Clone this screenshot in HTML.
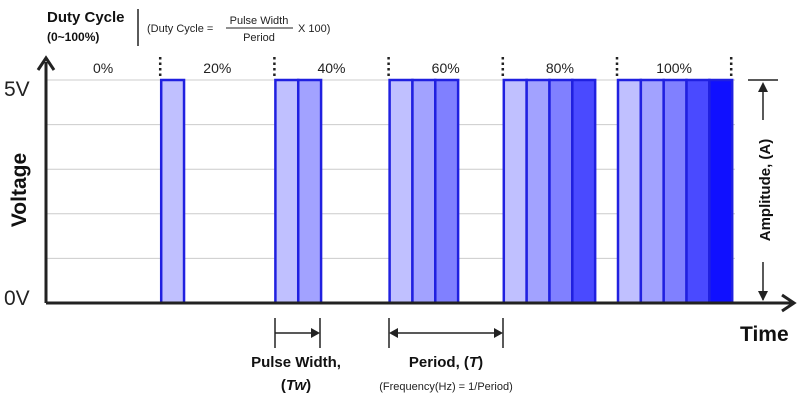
<!DOCTYPE html>
<html><head><meta charset="utf-8"><style>
body{margin:0;background:#fff}
svg{font-family:"Liberation Sans",sans-serif;display:block}
</style></head><body>
<svg id="chart" width="800" height="406" viewBox="0 0 800 406">
<g id="grid"></g>
<g id="pulses"></g>
<g id="marks"></g>
<line x1="46" y1="303" x2="46" y2="62" stroke="#222" stroke-width="3"/>
<path d="M38,70 L46,58 L54,70" fill="none" stroke="#222" stroke-width="3"/>
<line x1="46" y1="303" x2="792" y2="303" stroke="#222" stroke-width="3"/>
<path d="M782,295 L794,303 L782,311" fill="none" stroke="#222" stroke-width="3"/>
<text x="4" y="96" font-size="21" fill="#222">5V</text>
<text x="4" y="305" font-size="21" fill="#222">0V</text>
<text transform="translate(26,190) rotate(-90)" text-anchor="middle" font-size="21" font-weight="bold" fill="#111">Voltage</text>
<text x="740" y="341" font-size="21" font-weight="bold" fill="#111">Time</text>
<text x="47" y="22" font-size="15" font-weight="bold" fill="#111">Duty Cycle</text>
<text x="47" y="41" font-size="12" font-weight="bold" fill="#111">(0~100%)</text>
<line x1="138" y1="9" x2="138" y2="46" stroke="#222" stroke-width="1.5"/>
<text x="147" y="32" font-size="11" fill="#222">(Duty Cycle =</text>
<text x="259" y="24" font-size="11" fill="#222" text-anchor="middle">Pulse Width</text>
<line x1="226" y1="28" x2="293" y2="28" stroke="#222" stroke-width="1"/>
<text x="259" y="41" font-size="11" fill="#222" text-anchor="middle">Period</text>
<text x="298" y="32" font-size="11" fill="#222">X 100)</text>
<line x1="748" y1="80" x2="778" y2="80" stroke="#222" stroke-width="1.5"/>
<line x1="763" y1="84" x2="763" y2="120" stroke="#222" stroke-width="1.5"/>
<path d="M758,92 L763,82 L768,92Z" fill="#222"/>
<line x1="763" y1="262" x2="763" y2="300" stroke="#222" stroke-width="1.5"/>
<path d="M758,291 L763,301 L768,291Z" fill="#222"/>
<text transform="translate(770,190) rotate(-90)" text-anchor="middle" font-size="15" font-weight="bold" fill="#111">Amplitude, (A)</text>
<g>
<line x1="275" y1="318" x2="275" y2="348" stroke="#222" stroke-width="1.5"/>
<line x1="320" y1="318" x2="320" y2="348" stroke="#222" stroke-width="1.5"/>
<line x1="275" y1="333" x2="312" y2="333" stroke="#222" stroke-width="1.5"/>
<path d="M311,328 L320,333 L311,338Z" fill="#222"/>
</g>
<text x="296" y="367" font-size="15" font-weight="bold" text-anchor="middle" fill="#111">Pulse Width,</text>
<text x="296" y="390" font-size="15" font-weight="bold" text-anchor="middle" fill="#111">(<tspan font-style="italic">Tw</tspan>)</text>
<g>
<line x1="389" y1="318" x2="389" y2="348" stroke="#222" stroke-width="1.5"/>
<line x1="503" y1="318" x2="503" y2="348" stroke="#222" stroke-width="1.5"/>
<line x1="396" y1="333" x2="496" y2="333" stroke="#222" stroke-width="1.5"/>
<path d="M398,328 L389,333 L398,338Z" fill="#222"/>
<path d="M494,328 L503,333 L494,338Z" fill="#222"/>
</g>
<text x="446" y="367" font-size="15" font-weight="bold" text-anchor="middle" fill="#111">Period, (<tspan font-style="italic">T</tspan>)</text>
<text x="446" y="390" font-size="11" text-anchor="middle" fill="#222">(Frequency(Hz) = 1/Period)</text>
</svg>
<script>
const dutyCycles=[0,20,40,60,80,100];
const dutyLabels=["0%","20%","40%","60%","80%","100%"];
const slotColors=["#c0c0ff","#a2a2ff","#8080ff","#4a4aff","#1010ff"];
const x0=46,period=114.2,yTop=80,yBot=303;
const ns="http://www.w3.org/2000/svg";
function X(t){return x0+t*period;}
const grid=document.getElementById('grid');
for(let i=0;i<5;i++){const y=yTop+i*(yBot-yTop)/5;const l=document.createElementNS(ns,'line');


l.setAttribute('x1',46);l.setAttribute('x2',735);l.setAttribute('y1',y);l.setAttribute('y2',y);l.setAttribute('stroke','#ccc');l.setAttribute('stroke-width','1');grid.appendChild(l);}
const pg=document.getElementById('pulses'),mg=document.getElementById('marks');
dutyCycles.forEach((d,i)=>{
 const n=Math.round(d/20),sw=period/5;
 for(let k=0;k<n;k++){const r=document.createElementNS(ns,'rect');
  
  
  r.setAttribute('x',X(i)+k*sw+1);r.setAttribute('y',yTop);r.setAttribute('width',sw);r.setAttribute('height',yBot-yTop);
  r.setAttribute('fill',slotColors[k]);r.setAttribute('stroke','#2020e0');r.setAttribute('stroke-width','2.5');pg.appendChild(r);}
 const t=document.createElementNS(ns,'text');
 
 
 t.setAttribute('x',X(i)+period/2);t.setAttribute('y',73);t.setAttribute('text-anchor','middle');t.setAttribute('font-size','14');t.setAttribute('fill','#222');t.textContent=dutyLabels[i];mg.appendChild(t);
 const dl=document.createElementNS(ns,'line');
 
 
 dl.setAttribute('x1',X(i+1));dl.setAttribute('x2',X(i+1));dl.setAttribute('y1',57);dl.setAttribute('y2',77);dl.setAttribute('stroke','#222');dl.setAttribute('stroke-width','2.5');dl.setAttribute('stroke-dasharray','2.5 3');mg.appendChild(dl);
});
</script>
</body></html>
